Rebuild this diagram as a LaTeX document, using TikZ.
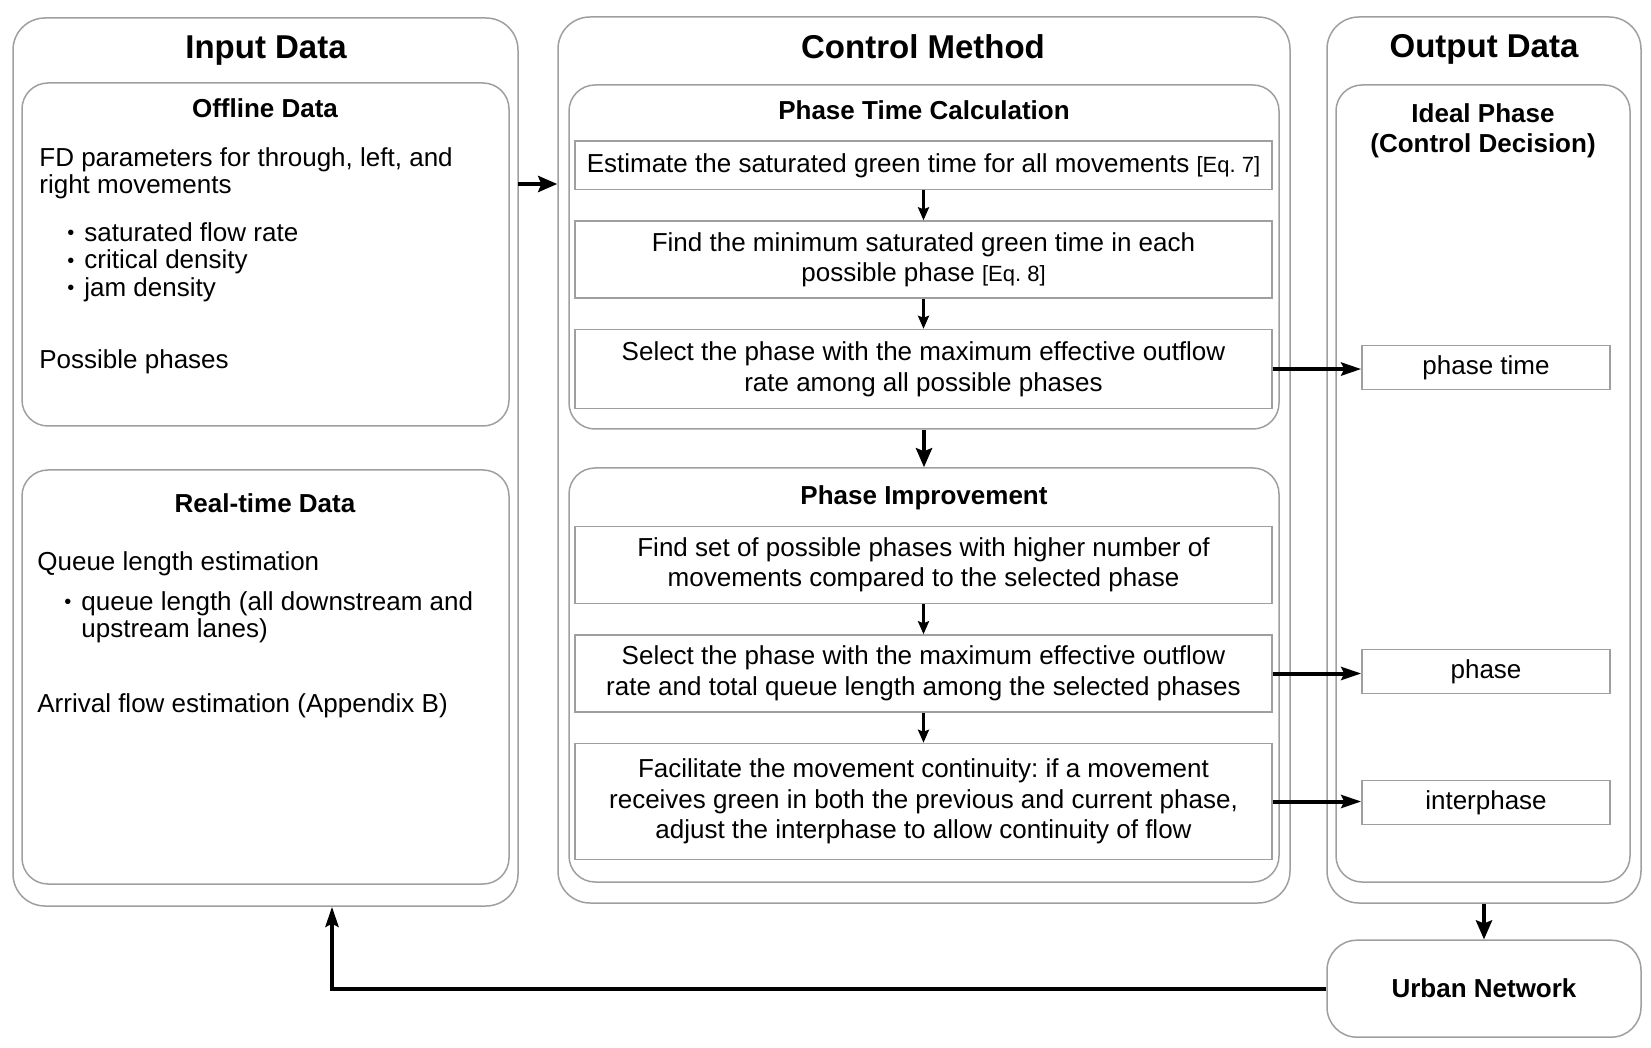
\documentclass[tikz,border=0pt]{standalone}
\usepackage{fontspec}
\setmainfont{Liberation Sans}
\usetikzlibrary{arrows.meta,fit,positioning}
\definecolor{framegray}{HTML}{9F9F9F}
\newcommand{\eqtag}[1]{{\fontsize{11}{13}\selectfont[Eq.~#1]}}
\newcommand{\dotitem}{\makebox[8.5pt][l]{\raisebox{0.1ex}{\fontsize{10}{10}\selectfont\textbullet}}}
\tikzset{>={Stealth[length=6.5pt,width=5.5pt,inset=1pt]},
         panel/.style={draw=framegray, line width=0.75pt, rounded corners=16pt, inner sep=0pt},
         subpanel/.style={panel, rounded corners=13pt},
         stepbox/.style={draw=framegray, line width=0.75pt, minimum width=348.5pt,
                         align=center, inner sep=0pt, font=\fontsize{13}{15.25}\selectfont},
         outbox/.style={draw=framegray, line width=0.75pt, minimum width=124pt,
                        minimum height=22pt, inner sep=0pt, font=\fontsize{13}{15}\selectfont},
         heading/.style={font=\fontsize{16.5}{19}\selectfont\bfseries, anchor=base},
         subheading/.style={font=\fontsize{13}{15.25}\selectfont\bfseries, anchor=base,
                            align=center, inner sep=0pt},
         bodytext/.style={font=\fontsize{13}{13.6}\selectfont, inner sep=0pt, align=left},
         flow/.style={->, line width=1.6pt},
         bigflow/.style={-{Stealth[length=9.5pt,width=8pt,inset=1.5pt]}, line width=2pt},
         result/.style={-{Stealth[length=10pt,width=6.5pt,inset=1.5pt]}, line width=2pt}}

\begin{document}
\frenchspacing
\begin{tikzpicture}[x=0.5pt,y=-0.5pt]
\useasboundingbox (0,0) rectangle (1651,1048);

% three columns
\node[panel, fit={(13,18) (518,906)}] (input) {};
\node[panel, fit={(558,17) (1290,903)}] (control) {};
\node[panel, fit={(1327,17) (1641,903)}] (output) {};
\node[heading] at (266,59) {Input Data};
\node[heading] at (923,59) {Control Method};
\node[heading] at (1484,58) {Output Data};

% input data
\node[subpanel, fit={(22,83) (509,426)}] (offline) {};
\node[subpanel, fit={(22,470) (509,884)}] (realtime) {};
\node[subheading] at (265,118) {Offline Data};
\node[subheading] at (265,512) {Real-time Data};
\node[bodytext, anchor=north west] (fd) at (39,147)
  {FD parameters for through, left, and\\right movements};
\node[bodytext, anchor=north west, font=\fontsize{13}{13.75}\selectfont] (fdlist) at (67,222)
  {\dotitem saturated flow rate\\\dotitem critical density\\\dotitem jam density};
\node[bodytext, anchor=base west] (phases) at (39,369) {Possible phases};
\node[bodytext, anchor=base west] (queue) at (37,570) {Queue length estimation};
\node[bodytext, anchor=north west] (queuelist) at (64,591)
  {\dotitem queue length (all downstream and\\\phantom{\dotitem}upstream lanes)};
\node[bodytext, anchor=base west] (arrival) at (37,712) {Arrival flow estimation (Appendix B)};

% control method
\node[subpanel, fit={(569,85) (1279,429)}] (ptc) {};
\node[subpanel, fit={(569,468) (1279,882)}] (pi) {};
\node[subheading] at (924,120) {Phase Time Calculation};
\node[subheading] at (924,504.5) {Phase Improvement};
\node[stepbox, minimum height=24.25pt] (est) at (923.5,165.3)
  {Estimate the saturated green time for all movements \eqtag{7}};
\node[stepbox, minimum height=38.5pt, below=15pt of est] (minsat)
  {Find the minimum saturated green time in each\\possible phase \eqtag{8}};
\node[stepbox, minimum height=39.5pt, below=15pt of minsat] (select)
  {Select the phase with the maximum effective outflow\\rate among all possible phases};
\node[stepbox, minimum height=38.5pt] (findset) at (923.5,565)
  {Find set of possible phases with higher number of\\movements compared to the selected phase};
\node[stepbox, minimum height=38.5pt, below=15pt of findset] (improve)
  {Select the phase with the maximum effective outflow\\rate and total queue length among the selected phases};
\node[stepbox, minimum height=58pt, below=15pt of improve] (continuity)
  {Facilitate the movement continuity: if a movement\\receives green in both the previous and current phase,\\adjust the interphase to allow continuity of flow};

% output data
\node[subpanel, fit={(1336,85) (1630,882)}] (ideal) {};
\node[subheading, anchor=north] at (1483,103) {Ideal Phase\\(Control Decision)};
\node[outbox] (phasetime) at (1486,367.5) {phase time};
\node[outbox] (phase) at (1486,671.3) {phase};
\node[outbox] (interphase) at (1486,802.4) {interphase};
\node[panel, rounded corners=15pt, minimum width=157pt, minimum height=48.5pt,
      font=\fontsize{13}{15}\selectfont\bfseries] (urban) at (1484,988.7) {Urban Network};

% connectors
\coordinate (feed) at (518,184);
\coordinate (ret) at (332,988);
\draw[bigflow] (feed) -- (feed -| control.west);
\draw[flow] (est) -- (minsat);
\draw[flow] (minsat) -- (select);
\draw[bigflow] (ptc) -- (pi);
\draw[flow] (findset) -- (improve);
\draw[flow] (improve) -- (continuity);
\draw[result] (select.east) -- (select.east -| phasetime.west);
\draw[result] (improve.east) -- (improve.east -| phase.west);
\draw[result] (continuity.east) -- (continuity.east -| interphase.west);
\draw[bigflow] (output) -- (urban);
\draw[result] (urban.west) -| (input.south -| ret);
\end{tikzpicture}
\end{document}
